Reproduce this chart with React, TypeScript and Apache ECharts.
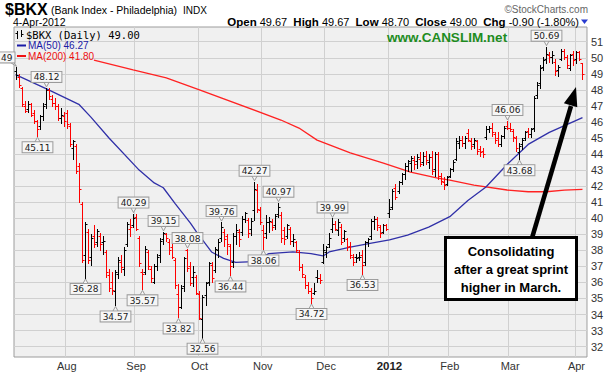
import React, { useEffect, useRef } from "react";
import * as echarts from "echarts";

// ---- trading calendar (day numbers per month) ----
const JUL_2011 = [7, 8, 11, 12, 13, 14, 15, 18, 19, 20, 21, 22, 25, 26, 27, 28, 29];
const AUG_2011 = [1, 2, 3, 4, 5, 8, 9, 10, 11, 12, 15, 16, 17, 18, 19, 22, 23, 24, 25, 26, 29, 30, 31];
const SEP_2011 = [1, 2, 6, 7, 8, 9, 12, 13, 14, 15, 16, 19, 20, 21, 22, 23, 26, 27, 28, 29, 30];
const OCT_2011 = [3, 4, 5, 6, 7, 10, 11, 12, 13, 14, 17, 18, 19, 20, 21, 24, 25, 26, 27, 28, 31];
const NOV_2011 = [1, 2, 3, 4, 7, 8, 9, 10, 11, 14, 15, 16, 17, 18, 21, 22, 23, 25, 28, 29, 30];
const DEC_2011 = [1, 2, 5, 6, 7, 8, 9, 12, 13, 14, 15, 16, 19, 20, 21, 22, 23, 27, 28, 29, 30];
const JAN_2012 = [3, 4, 5, 6, 9, 10, 11, 12, 13, 17, 18, 19, 20, 23, 24, 25, 26, 27, 30, 31];
const FEB_2012 = [1, 2, 3, 6, 7, 8, 9, 10, 13, 14, 15, 16, 17, 21, 22, 23, 24, 27, 28, 29];
const MAR_2012 = [1, 2, 5, 6, 7, 8, 9, 12, 13, 14, 15, 16, 19, 20, 21, 22, 23, 26, 27, 28, 29, 30];
const APR_2012 = [2, 3, 4];

const MONTHS: [string, number[], string | null][] = [
  ["2011-07", JUL_2011, null],
  ["2011-08", AUG_2011, "Aug"],
  ["2011-09", SEP_2011, "Sep"],
  ["2011-10", OCT_2011, "Oct"],
  ["2011-11", NOV_2011, "Nov"],
  ["2011-12", DEC_2011, "Dec"],
  ["2012-01", JAN_2012, "2012"],
  ["2012-02", FEB_2012, "Feb"],
  ["2012-03", MAR_2012, "Mar"],
  ["2012-04", APR_2012, "Apr"],
];

// ---- daily OHLC of $BKX ----
const OPEN = [
  49.15, 48.8, 48.1, 47.0, 46.8, 47.1, 46.55, 46.05, 45.75, 46.35,
  47.1, 48.0, 47.4, 47.2, 47.0, 46.25, 46.35, 46.55, 45.75, 44.4,
  44.5, 43.25, 40.9, 37.7, 39.15, 37.6, 38.9, 38.5, 38.9, 38.5,
  37.9, 36.45, 36.05, 35.45, 36.55, 37.3, 36.85, 38.4, 39.35, 39.55,
  40.1, 38.8, 36.65, 36.65, 37.9, 36.85, 36.05, 37.05, 37.7, 38.7,
  39.0, 38.5, 38.2, 37.4, 35.3, 34.5, 35.75, 38.0, 37.0, 36.35,
  36.35, 35.25, 33.7, 35.2, 36.05, 37.1, 36.75, 38.0, 38.8, 39.15,
  38.9, 38.3, 37.25, 38.9, 39.15, 39.15, 39.95, 39.9, 39.35, 40.5,
  41.75, 40.5, 39.25, 39.05, 39.75, 39.75, 39.55, 40.25, 40.2, 39.25,
  38.9, 39.35, 38.6, 38.5, 37.9, 36.95, 36.35, 35.85, 35.45, 35.35,
  36.35, 36.25, 37.3, 37.9, 38.4, 39.35, 39.65, 39.25, 39.45, 38.8,
  38.7, 38.3, 37.6, 37.6, 37.6, 37.7, 37.3, 38.5, 38.9, 39.85,
  39.95, 39.45, 39.15, 39.55, 40.3, 40.7, 41.9, 41.7, 42.25, 42.75,
  43.25, 43.45, 43.65, 43.55, 43.7, 43.5, 43.9, 43.5, 43.8, 43.05,
  44.0, 42.65, 42.25, 42.15, 42.65, 43.05, 43.7, 44.7, 44.9, 44.7,
  45.3, 44.8, 44.6, 44.8, 44.3, 44.2, 45.05, 45.55, 45.65, 45.25,
  45.0, 44.6, 45.1, 45.75, 45.65, 45.45, 45.0, 44.1, 44.6, 45.0,
  45.45, 45.25, 45.65, 47.7, 48.4, 49.45, 49.95, 50.15, 50.05, 49.75,
  49.25, 49.95, 50.45, 50.05, 49.35, 50.25, 49.95, 50.35, 49.67,
];
const HIGH = [
  49.4, 49.0, 48.2, 47.3, 47.3, 47.2, 46.75, 46.15, 46.45, 47.2,
  48.12, 48.1, 47.7, 47.5, 47.1, 46.85, 46.65, 46.75, 45.95, 44.9,
  44.6, 43.45, 41.0, 39.75, 39.35, 39.0, 39.55, 39.35, 39.1, 38.9,
  38.0, 36.85, 36.65, 36.75, 37.6, 37.7, 38.2, 39.75, 39.95, 40.29,
  40.25, 38.9, 36.85, 38.3, 38.0, 37.05, 37.15, 37.8, 38.8, 39.15,
  39.1, 38.7, 38.4, 37.5, 35.9, 35.85, 37.6, 38.08, 37.3, 37.05,
  36.45, 35.45, 35.2, 36.05, 37.3, 37.3, 38.2, 38.7, 39.76, 39.35,
  39.0, 38.4, 39.1, 39.65, 39.35, 40.15, 40.4, 40.0, 40.0, 42.27,
  42.15, 40.7, 39.6, 40.2, 40.05, 39.95, 40.25, 40.97, 40.4, 39.45,
  39.65, 39.45, 39.0, 38.6, 38.0, 37.15, 36.45, 36.05, 35.65, 35.95,
  36.75, 36.55, 38.4, 38.3, 39.05, 39.99, 39.85, 39.95, 39.65, 39.25,
  38.8, 38.5, 37.8, 37.8, 37.9, 38.0, 38.6, 38.8, 39.95, 40.15,
  40.05, 39.55, 39.65, 39.65, 41.2, 41.8, 42.15, 42.35, 42.85, 43.45,
  43.65, 43.85, 43.9, 44.0, 44.1, 44.1, 44.2, 44.0, 44.2, 44.1,
  44.1, 42.85, 42.55, 42.65, 43.15, 43.6, 45.0, 45.1, 45.1, 45.1,
  45.55, 45.0, 45.0, 44.9, 44.5, 44.4, 45.75, 45.75, 45.95, 45.35,
  45.4, 45.2, 45.75, 46.06, 45.95, 45.55, 45.1, 44.7, 45.0, 45.45,
  45.65, 45.65, 47.6, 48.5, 49.55, 50.05, 50.69, 50.35, 50.45, 49.95,
  49.55, 50.55, 50.55, 50.15, 50.25, 50.45, 50.45, 50.45, 49.67,
];
const LOW = [
  48.7, 48.2, 47.0, 46.6, 46.6, 46.35, 45.95, 45.11, 45.55, 46.15,
  46.9, 47.4, 47.0, 46.8, 46.15, 45.95, 45.75, 45.65, 44.5, 43.7,
  42.85, 41.0, 37.3, 36.28, 37.2, 37.1, 38.2, 38.3, 38.0, 37.8,
  36.35, 35.45, 35.25, 34.57, 36.25, 36.65, 36.45, 38.3, 38.9, 39.45,
  39.25, 37.0, 35.57, 36.55, 36.85, 36.05, 35.95, 36.75, 37.3, 38.4,
  38.6, 37.8, 37.5, 35.65, 33.82, 34.4, 35.45, 36.7, 35.85, 35.75,
  35.25, 33.7, 32.56, 34.6, 35.85, 36.05, 36.65, 37.6, 38.6, 38.3,
  37.8, 36.44, 36.95, 38.4, 38.3, 38.95, 39.75, 38.85, 38.95, 39.9,
  40.4, 39.65, 38.06, 38.75, 39.15, 39.25, 39.35, 40.05, 38.55, 38.4,
  38.8, 38.4, 38.3, 37.9, 36.75, 36.35, 35.65, 35.35, 34.72, 35.25,
  36.05, 35.95, 37.2, 37.6, 38.2, 39.15, 39.25, 38.95, 38.4, 38.6,
  38.0, 37.5, 37.1, 37.3, 37.4, 36.53, 37.1, 38.3, 38.7, 39.35,
  39.25, 38.85, 39.05, 39.25, 40.1, 40.6, 41.2, 41.6, 42.15, 42.45,
  42.95, 42.95, 43.05, 43.15, 43.25, 43.3, 43.4, 43.15, 42.75, 42.65,
  42.45, 42.15, 41.8, 42.05, 42.55, 42.95, 43.65, 44.4, 44.5, 44.4,
  44.8, 44.3, 44.4, 44.0, 43.9, 43.8, 44.95, 45.35, 45.15, 44.7,
  44.5, 44.5, 45.0, 45.55, 45.45, 44.8, 44.2, 43.68, 44.3, 44.9,
  45.05, 45.05, 45.45, 47.5, 48.1, 49.25, 49.65, 49.75, 49.65, 48.95,
  48.85, 49.85, 49.95, 49.35, 49.25, 49.55, 49.65, 49.85, 48.7,
];
const CLOSE = [
  48.9, 48.3, 47.1, 46.7, 47.1, 46.45, 46.05, 45.55, 46.35, 47.0,
  48.0, 47.6, 47.2, 47.0, 46.25, 46.45, 46.05, 45.85, 44.6, 44.8,
  42.95, 41.8, 37.4, 39.65, 37.4, 38.8, 38.4, 39.2, 38.4, 38.6,
  36.65, 35.65, 35.55, 36.65, 37.4, 36.95, 38.0, 39.65, 39.45, 40.0,
  39.35, 37.2, 36.55, 38.1, 37.05, 36.25, 37.05, 37.6, 38.6, 39.05,
  38.75, 38.0, 37.6, 35.85, 34.5, 35.65, 37.5, 36.9, 35.95, 36.65,
  35.35, 33.8, 35.1, 35.95, 37.2, 36.25, 38.1, 38.5, 39.45, 38.7,
  38.4, 37.05, 38.9, 39.25, 38.7, 39.95, 40.3, 39.05, 39.85, 41.85,
  40.6, 39.75, 38.85, 39.75, 39.85, 39.45, 40.15, 40.7, 38.75, 38.7,
  39.55, 38.6, 38.7, 38.0, 36.95, 36.55, 35.85, 35.45, 35.0, 35.45,
  36.25, 36.15, 38.0, 38.2, 38.8, 39.65, 39.35, 39.75, 38.5, 39.2,
  38.2, 37.7, 37.3, 37.5, 37.6, 37.1, 38.5, 38.7, 39.85, 39.95,
  39.55, 39.05, 39.55, 39.35, 40.6, 41.7, 41.3, 42.25, 42.75, 43.25,
  43.55, 43.75, 43.35, 43.8, 43.4, 43.9, 43.6, 43.8, 42.95, 44.0,
  42.65, 42.35, 42.05, 42.55, 43.05, 43.5, 44.8, 44.9, 44.7, 45.0,
  44.9, 44.5, 44.9, 44.2, 44.1, 44.0, 45.55, 45.65, 45.35, 44.9,
  44.6, 45.1, 45.65, 45.6, 45.55, 45.05, 44.4, 44.5, 44.9, 45.35,
  45.25, 45.55, 47.5, 48.3, 49.35, 49.85, 50.25, 50.05, 50.15, 49.15,
  49.45, 50.45, 50.05, 49.55, 50.15, 49.85, 50.35, 49.9, 49.0,
];

// ---- moving averages, read at sampled bars ----
const MA50_IDX = [0, 11, 21, 25, 31, 41, 46, 49, 53, 58, 60, 65, 69, 73, 79, 84, 92, 98, 102, 104, 111, 118, 124, 130, 137, 144, 150, 156, 163, 170, 177, 188];
const MA50_VAL = [48.95, 48.0, 47.1, 46.3, 45.0, 43.0, 42.2, 41.9, 40.9, 39.7, 39.15, 37.9, 37.5, 37.25, 37.3, 37.8, 37.9, 37.8, 37.65, 37.9, 38.2, 38.45, 38.65, 38.95, 39.45, 40.1, 41.1, 41.95, 43.35, 44.6, 45.35, 46.27];
const MA200_IDX = [26, 39, 50, 61, 88, 94, 100, 111, 122, 131, 140, 144, 152, 163, 170, 176, 182, 188];
const MA200_VAL = [49.85, 49.25, 48.75, 48.0, 46.12, 45.62, 44.87, 44.07, 43.44, 42.88, 42.5, 42.38, 42.07, 41.76, 41.65, 41.65, 41.75, 41.8];

// ---- swing labels ----
const LABEL_IDX = [0, 7, 10, 23, 33, 39, 42, 49, 54, 57, 62, 68, 71, 79, 82, 87, 98, 105, 115, 163, 167, 176];
const LABEL_TEXT = ["49", "45.11", "48.12", "36.28", "34.57", "40.29", "35.57", "39.15", "33.82", "38.08", "32.56", "39.76", "36.44", "42.27", "38.06", "40.97", "34.72", "39.99", "36.53", "46.06", "43.68", "50.69"];
const LABEL_SIDE = ["H", "L", "H", "L", "L", "H", "L", "H", "L", "H", "L", "H", "L", "H", "L", "H", "L", "H", "L", "H", "L", "H"];

const HEADER_QUOTE = [["Open", "49.67"], ["High", "49.67"], ["Low", "48.70"], ["Close", "49.00"], ["Chg", "-0.90 (-1.80%)"]];
const NOTE_LINES = ["Consolidating", "after a great sprint", "higher in March."];

const SANS = '"Liberation Sans", Arial, sans-serif';

function buildOption() {
  const cats: string[] = [];
  const monthStart: Record<number, string> = {};
  MONTHS.forEach(([ym, days, label]) => {
    days.forEach((d, k) => {
      if (k === 0 && label) monthStart[cats.length] = label;
      cats.push(`${ym}-${String(d).padStart(2, "0")}`);
    });
  });
  cats.push(""); // empty slot at the right edge

  const bars = OPEN.map((o, i) => [i, o, HIGH[i], LOW[i], CLOSE[i], i === 0 || CLOSE[i] >= CLOSE[i - 1] ? 1 : 0]);
  const labels = LABEL_IDX.map((idx, k) => [idx, LABEL_SIDE[k] === "H" ? HIGH[idx] : LOW[idx], LABEL_SIDE[k] === "H" ? 1 : -1, k]);

  const isStart = (i: number) => monthStart[i] !== undefined;

  const yMin = 31.355;
  const yMax = 51.916;

  const quoteText = HEADER_QUOTE.map(([k, v]) => `{b|${k}} {v|${v}}`).join("  ");

  return {
    animation: false,
    backgroundColor: "#ffffff",
    grid: {
      left: 14, right: 21, top: 27, bottom: 16,
      show: true, backgroundColor: "#f0f0f0", borderColor: "#9c9c9c", borderWidth: 1,
      outerBoundsMode: "none",
    },
    xAxis: {
      type: "category",
      data: cats,
      boundaryGap: true,
      axisLine: { show: false },
      axisTick: { show: false },
      axisLabel: {
        interval: (i: number) => isStart(i),
        formatter: (_v: string, i: number) => (monthStart[i] === "2012" ? "{b|2012}" : monthStart[i] || ""),
        margin: 3,
        fontSize: 11,
        fontFamily: SANS,
        color: "#333",
        rich: { b: { fontWeight: "bold", fontSize: 11.5, fontFamily: SANS, color: "#222" } },
      },
      splitLine: { show: true, interval: (i: number) => isStart(i), lineStyle: { color: "#d0d0d0", width: 1 } },
    },
    yAxis: {
      type: "value",
      position: "right",
      min: yMin,
      max: yMax,
      splitNumber: 20,
      minInterval: 1,
      maxInterval: 1,
      axisLine: { show: false },
      axisTick: { show: false },
      axisLabel: {
        margin: 4, fontSize: 11, fontFamily: SANS, color: "#333",
        showMinLabel: false, showMaxLabel: false,
        formatter: (v: number) => (Math.abs(v - Math.round(v)) < 1e-6 ? String(Math.round(v)) : ""),
      },
      splitLine: { show: true, showMinLine: false, showMaxLine: false, lineStyle: { color: "#d0d0d0", width: 1 } },
    },
    series: [
      {
        type: "line", name: "MA200", z: 3,
        data: MA200_IDX.map((i, k) => [i, MA200_VAL[k]]),
        showSymbol: false, symbol: "none", smooth: false,
        lineStyle: { color: "#ff2222", width: 1.3 },
      },
      {
        type: "line", name: "MA50", z: 3,
        data: MA50_IDX.map((i, k) => [i, MA50_VAL[k]]),
        showSymbol: false, symbol: "none", smooth: false,
        lineStyle: { color: "#3030a8", width: 1.3 },
      },
      {
        type: "custom", name: "BKX", z: 4,
        data: bars,
        encode: { x: 0, y: [1, 2, 3, 4] },
        renderItem: (_p: any, api: any) => {
          const i = api.value(0);
          const ph = api.coord([i, api.value(2)]);
          const pl = api.coord([i, api.value(3)]);
          const po = api.coord([i, api.value(1)]);
          const pc = api.coord([i, api.value(4)]);
          const up = api.value(5) === 1;
          const color = up ? "#000000" : "#ff0000";
          const x = Math.round(ph[0]) + 0.5;
          const yo = Math.round(po[1]) + 0.5;
          const yc = Math.round(pc[1]) + 0.5;
          const st = { stroke: color, lineWidth: 1 };
          return {
            type: "group",
            children: [
              { type: "line", shape: { x1: x, y1: Math.round(ph[1]), x2: x, y2: Math.round(pl[1]) + 1 }, style: st },
              { type: "line", shape: { x1: x - 2, y1: yo, x2: x, y2: yo }, style: st },
              { type: "line", shape: { x1: x, y1: yc, x2: x + 2, y2: yc }, style: st },
            ],
          };
        },
      },
      {
        type: "custom", name: "labels", z: 6,
        data: labels,
        encode: { x: 0, y: 1 },
        renderItem: (_p: any, api: any) => {
          const k = api.value(3);
          const dir = api.value(2);
          const p = api.coord([api.value(0), api.value(1)]);
          const x = Math.round(p[0]) + 0.5;
          const y = p[1];
          const gap = 6;
          let tx = x;
          let align = "center";
          let ty: number;
          let vAlign: string;
          let tri: number[][];
          if (dir > 0) {
            ty = y - gap; vAlign = "bottom";
            tri = [[x - 3, ty - 0.5], [x + 3, ty - 0.5], [x, y - 1]];
          } else {
            ty = y + gap; vAlign = "top";
            tri = [[x - 3, ty + 0.5], [x + 3, ty + 0.5], [x, y + 1]];
          }
          if (x < 30) {
            align = "right"; tx = x - 2; ty = y - 5;
            tri = [[x - 7, ty - 0.5], [x - 3, ty - 0.5], [x, y - 1]];
          }
          return {
            type: "group",
            children: [
              { type: "polygon", shape: { points: tri }, style: { fill: "#f6f6f6", stroke: "#9a9a9a", lineWidth: 1 } },
              {
                type: "text", x: tx, y: ty,
                style: {
                  text: LABEL_TEXT[k], font: '9px "DejaVu Sans", sans-serif', fill: "#222",
                  align, verticalAlign: vAlign,
                  backgroundColor: "#f6f6f6", borderColor: "#9a9a9a", borderWidth: 1, padding: [1, 2, 0, 2],
                },
              },
            ],
          };
        },
      },
    ],
    graphic: [
      { type: "text", x: 5, y: 9, z: 100, style: { text: "$BKX", font: `bold 16px ${SANS}`, fill: "#000", verticalAlign: "middle", textVerticalAlign: "middle" } },
      { type: "text", x: 51, y: 10, z: 100, style: { text: "(Bank Index - Philadelphia)", font: `10.5px ${SANS}`, fill: "#000", verticalAlign: "middle", textVerticalAlign: "middle" } },
      { type: "text", x: 183, y: 10, z: 100, style: { text: "INDX", font: `10px ${SANS}`, fill: "#000", verticalAlign: "middle", textVerticalAlign: "middle" } },
      { type: "text", x: 588, y: 9, z: 100, style: { text: "\u00a9StockCharts.com", font: `10px ${SANS}`, fill: "#666", align: "right", textAlign: "right", verticalAlign: "middle", textVerticalAlign: "middle" } },
      { type: "text", x: 13, y: 22, z: 100, style: { text: "4-Apr-2012", font: `10.5px ${SANS}`, fill: "#000", verticalAlign: "middle", textVerticalAlign: "middle" } },
      {
        type: "text", x: 579, y: 22, z: 100,
        style: {
          text: quoteText, align: "right", textAlign: "right", verticalAlign: "middle", textVerticalAlign: "middle",
          font: `11px ${SANS}`, fill: "#000",
          rich: { b: { fontWeight: "bold", fontSize: 11.5, fontFamily: SANS, fill: "#000", color: "#000" }, v: { fontSize: 11, fontFamily: SANS, fill: "#000", color: "#000" } },
        },
      },
      { type: "polygon", z: 100, shape: { points: [[581, 19.5], [588, 19.5], [584.5, 24]] }, style: { fill: "#2a3cd0" } },
      // legend inside plot
      { type: "line", z: 100, shape: { x1: 17.5, y1: 31, x2: 17.5, y2: 39 }, style: { stroke: "#000", lineWidth: 1 } },
      { type: "line", z: 100, shape: { x1: 15.5, y1: 33.5, x2: 17.5, y2: 33.5 }, style: { stroke: "#000", lineWidth: 1 } },
      { type: "line", z: 100, shape: { x1: 21.5, y1: 30, x2: 21.5, y2: 37 }, style: { stroke: "#000", lineWidth: 1 } },
      { type: "line", z: 100, shape: { x1: 21.5, y1: 34.5, x2: 23.5, y2: 34.5 }, style: { stroke: "#000", lineWidth: 1 } },
      { type: "text", x: 26, y: 35, z: 100, style: { text: "$BKX (Daily) 49.00", font: '10.5px "DejaVu Sans Mono", monospace', fill: "#000", verticalAlign: "middle", textVerticalAlign: "middle" } },
      { type: "line", z: 100, shape: { x1: 17, y1: 45.5, x2: 26, y2: 45.5 }, style: { stroke: "#1a1aa6", lineWidth: 2 } },
      { type: "text", x: 28, y: 45.5, z: 100, style: { text: "MA(50) 46.27", font: `10px ${SANS}`, fill: "#1a1aa6", verticalAlign: "middle", textVerticalAlign: "middle" } },
      { type: "line", z: 100, shape: { x1: 17, y1: 56, x2: 26, y2: 56 }, style: { stroke: "#ee1111", lineWidth: 2 } },
      { type: "text", x: 28, y: 56, z: 100, style: { text: "MA(200) 41.80", font: `10px ${SANS}`, fill: "#ee1111", verticalAlign: "middle", textVerticalAlign: "middle" } },
      // watermark
      { type: "text", x: 447, y: 37.5, z: 100, style: { text: "www.CANSLIM.net", font: `bold 13.5px ${SANS}`, fill: "#1e8c1e", align: "center", textAlign: "center", verticalAlign: "middle", textVerticalAlign: "middle" } },
      // annotation box
      { type: "rect", z: 100, shape: { x: 445.5, y: 237.5, width: 131, height: 62 }, style: { fill: "#ffffff", stroke: "#000000", lineWidth: 3 } },
      ...NOTE_LINES.map((t, k) => ({
        type: "text", x: 511, y: 251 + k * 18, z: 101,
        style: { text: t, font: `bold 13px ${SANS}`, fill: "#000", align: "center", textAlign: "center", verticalAlign: "middle", textVerticalAlign: "middle" },
      })),
      // arrow
      { type: "line", z: 102, shape: { x1: 532, y1: 238, x2: 571, y2: 106 }, style: { stroke: "#000", lineWidth: 4.5 } },
      { type: "polygon", z: 102, shape: { points: [[576, 87], [563.9, 103.2], [577.3, 107.2]] }, style: { fill: "#000" } },
    ],
  };
}

export default function App() {
  const ref = useRef<HTMLDivElement>(null);
  useEffect(() => {
    const el = ref.current;
    if (!el) return;
    const chart = echarts.init(el, null, { renderer: "svg" });
    chart.setOption(buildOption() as any);
    return () => chart.dispose();
  }, []);
  return <div ref={ref} style={{ position: "fixed", left: 0, top: 0, width: 608, height: 373 }} />;
}
